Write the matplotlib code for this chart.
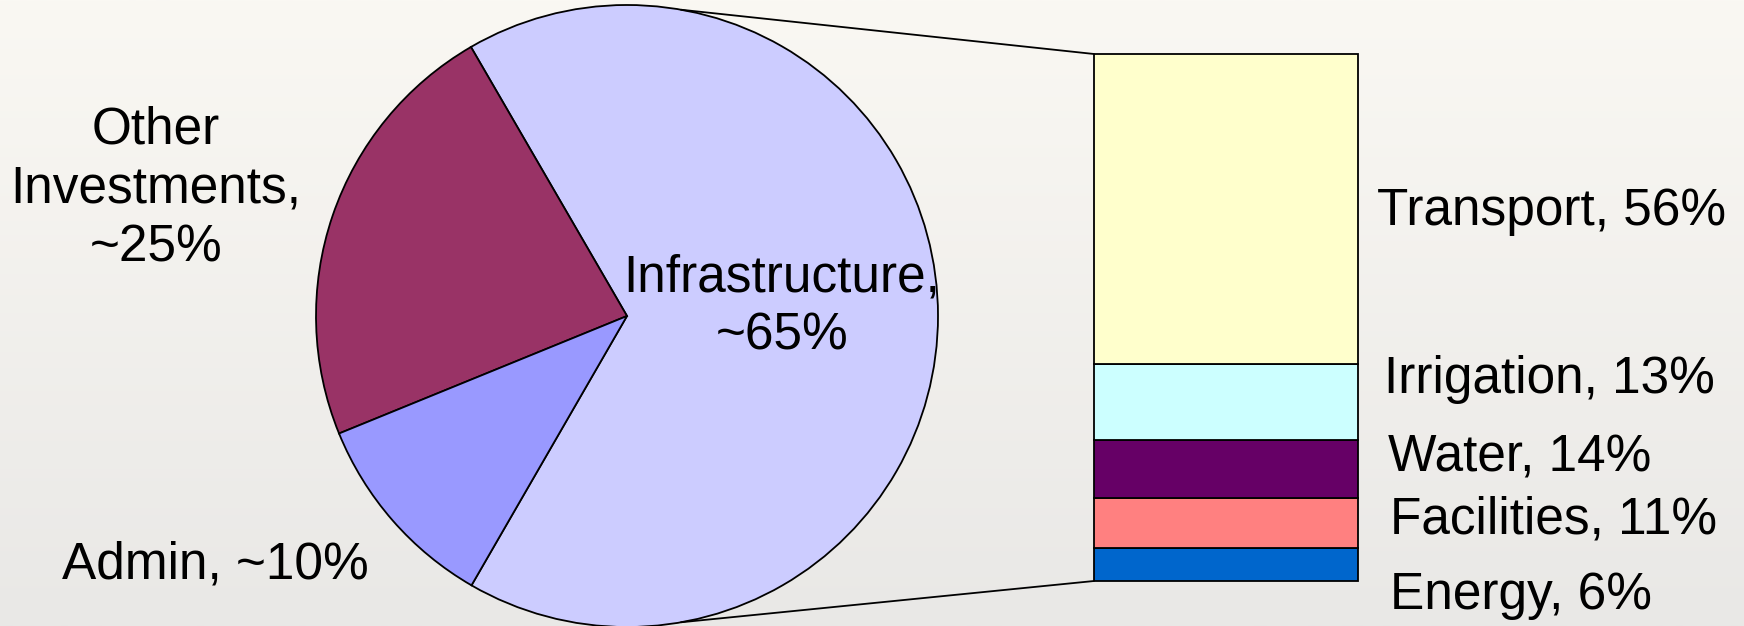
import numpy as np
import matplotlib.pyplot as plt
from matplotlib.colors import LinearSegmentedColormap
from matplotlib.patches import ConnectionPatch

plt.rcParams['font.family'] = ['Liberation Sans', 'DejaVu Sans']

# pie data (counter-clockwise from the lower split line)
pie_labels = ['Infrastructure,\n~65%', 'Other\nInvestments,\n~25%', 'Admin, ~10%']
pie_values = [66.7, 22.8, 10.5]
pie_colors = ['#CCCCFF', '#993366', '#9999FF']

# breakdown of infrastructure, bottom to top
bar_labels = ['Energy, 6%', 'Facilities, 11%', 'Water, 14%', 'Irrigation, 13%', 'Transport, 56%']
bar_values = [6.3, 9.4, 11.1, 14.4, 58.8]
bar_colors = ['#0066CC', '#FF8080', '#660066', '#CCFFFF', '#FFFFCC']

W, H = 1744, 626
fig = plt.figure(figsize=(W / 100, H / 100), dpi=100)
ax = fig.add_axes([0, 0, 1, 1])

# background gradient
bg = LinearSegmentedColormap.from_list('bg', ['#E9E8E6', '#FAF8F3'])
grad = np.linspace(0, 1, 256).reshape(-1, 1)
ax.imshow(grad, cmap=bg, aspect='auto', extent=[0, W, 0, H], origin='lower', zorder=0)

cx, cy, r = 627, 310, 311
wedges, _ = ax.pie(pie_values, colors=pie_colors, startangle=-120, counterclock=True,
                   center=(cx, cy), radius=r, frame=True,
                   wedgeprops=dict(edgecolor='black', linewidth=1.3))
for w in wedges:
    w.set_zorder(2)

ax.set_xlim(0, W)
ax.set_ylim(0, H)
ax.set_aspect('equal')
ax.axis('off')

fs = 37
ax.text(782, 319, pie_labels[0], ha='center', va='center', fontsize=fs, linespacing=1.22, zorder=3)
ax.text(156, 437, pie_labels[1], ha='center', va='center', fontsize=fs, linespacing=1.25, zorder=3)
ax.text(215, 61, pie_labels[2], ha='center', va='center', fontsize=fs, zorder=3)

# stacked bar
bax = fig.add_axes([1094 / W, 45 / H, 264 / W, 527 / H])
bottom = 0
for v, c in zip(bar_values, bar_colors):
    bax.bar(0, v, width=1, bottom=bottom, color=c, edgecolor='black', linewidth=1.3, clip_on=False)
    bottom += v
bax.set_xlim(-0.5, 0.5)
bax.set_ylim(0, sum(bar_values))
bax.axis('off')

label_x = [1390, 1390, 1388, 1384, 1377]
label_y = [31, 106, 168, 246, 415]
for lab, lx, ly in zip(bar_labels, label_x, label_y):
    ax.text(lx, ly, lab, ha='left', va='center', fontsize=fs, zorder=3)

# connector lines
t = np.deg2rad(80)
top_pt = (cx + r * np.cos(t), cy + r * np.sin(t))
bot_pt = (cx + r * np.cos(-t), cy + r * np.sin(-t))
for pt, corner in [(top_pt, (0, 1)), (bot_pt, (0, 0))]:
    con = ConnectionPatch(xyA=pt, coordsA=ax.transData, xyB=corner, coordsB=bax.transAxes,
                          color='black', linewidth=1.3)
    fig.add_artist(con)

fig.savefig('out.png', dpi=100)
